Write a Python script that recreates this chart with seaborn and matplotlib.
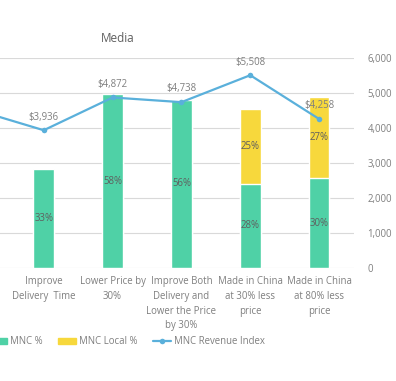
import numpy as np
import pandas as pd
import matplotlib
matplotlib.use('Agg')
import matplotlib.pyplot as plt
import seaborn as sns
from matplotlib.patches import Patch
from matplotlib.lines import Line2D

# datos del gráfico (la primera categoría queda fuera del recorte, sin etiqueta)
categorias = ["",
              "Improve\nDelivery  Time",
              "Lower Price by\n30%",
              "Improve Both\nDelivery and\nLower the Price\nby 30%",
              "Made in China\nat 30% less\nprice",
              "Made in China\nat 80% less\nprice"]
cat_barras = categorias[1:]
mnc_pct = [0.33, 0.58, 0.56, 0.28, 0.30]
local_pct = [0.0, 0.0, 0.0, 0.25, 0.27]
revenue_index = [4526, 3936, 4872, 4738, 5508, 4258]
revenue_labels = [None, "$3,936", "$4,872", "$4,738", "$5,508", "$4,258"]

VERDE = "#4fd1a6"
AMARILLO = "#f7d83c"
AZUL = "#5ab0db"
GRIS = "#7f7f7f"
GRIS_TXT = "#5f5f5f"
FS = 6.9

sns.set_theme(style="white")
plt.rcParams['font.family'] = ['Open Sans', 'DejaVu Sans']

df = pd.DataFrame({'cat': cat_barras, 'mnc': mnc_pct, 'local': local_pct})
df['total'] = df['mnc'] + df['local']

fig = plt.figure(figsize=(3.96, 3.81), dpi=100)
W, H = 396, 381
ax = fig.add_axes([-59.5 / W, 1 - 268 / H, 413 / W, 210 / H])

# barras apiladas: total (amarillo) y MNC encima (verde)
sns.barplot(data=df, x='cat', y='total', order=categorias, color=AMARILLO,
            saturation=1, width=0.30, ax=ax)
sns.barplot(data=df, x='cat', y='mnc', order=categorias, color=VERDE,
            saturation=1, width=0.30, ax=ax)
ax.set_ylim(0, 0.7)
ax.set_xlim(-0.5, len(categorias) - 0.5)
ax.set_yticks(np.linspace(0, 0.7, 7))
ax.set_yticklabels([])
ax.yaxis.grid(True, color="#d9d9d9", linewidth=0.8)
ax.set_axisbelow(True)
ax.tick_params(axis='y', length=0, left=False)
ax.tick_params(axis='x', length=0, pad=6, labelsize=FS, colors=GRIS)
for lbl in ax.get_xticklabels():
    lbl.set_linespacing(1.45)
ax.set_xlabel("")
ax.set_ylabel("")
for s in ax.spines.values():
    s.set_visible(False)

# etiquetas de porcentaje
for i, row in df.iterrows():
    x = categorias.index(row['cat'])
    ax.text(x, row['mnc'] / 2, f"{row['mnc']:.0%}", ha='center', va='center',
            fontsize=FS, color=GRIS_TXT)
    if row['local'] > 0:
        ax.text(x, row['mnc'] + row['local'] / 2, f"{row['local']:.0%}",
                ha='center', va='center', fontsize=FS, color=GRIS_TXT)

# línea del índice de ingresos en eje secundario
ax2 = ax.twinx()
xs = np.arange(len(categorias))
sns.lineplot(x=xs, y=revenue_index, ax=ax2, color=AZUL, linewidth=1.6,
             marker='o', markersize=4, markeredgewidth=0)
ax2.set_ylim(0, 6000)
ax2.set_xlim(-0.5, len(categorias) - 0.5)
ax2.set_yticks(np.arange(0, 6001, 1000))
ax2.set_yticklabels([f"{v:,.0f}" for v in np.arange(0, 6001, 1000)])
ax2.tick_params(axis='y', length=0, pad=10, labelsize=FS, colors=GRIS)
ax2.grid(False)
for s in ax2.spines.values():
    s.set_visible(False)
for x, v, t in zip(xs, revenue_index, revenue_labels):
    if t:
        ax2.annotate(t, (x, v), xytext=(0, 9.5), textcoords='offset points',
                     ha='center', va='center', fontsize=FS, color=GRIS)

fig.text(118 / W, 1 - 38 / H, "Media", ha='center', va='center',
         fontsize=8.5, color=GRIS_TXT)

handles = [Patch(color=VERDE), Patch(color=AMARILLO),
           Line2D([], [], color=AZUL, linewidth=1.6, marker='o', markersize=4,
                  markeredgewidth=0)]
leg = fig.legend(handles, ["MNC %", "MNC Local %", "MNC Revenue Index"],
                 loc='center left', bbox_to_anchor=(-11 / W, 1 - 342 / H),
                 ncol=3, frameon=False, fontsize=FS, borderpad=0,
                 handlelength=1.85, handleheight=0.5, handletextpad=0.35,
                 columnspacing=1.6, borderaxespad=0)
for t in leg.get_texts():
    t.set_color(GRIS)

fig.savefig("out.png", dpi=100)
